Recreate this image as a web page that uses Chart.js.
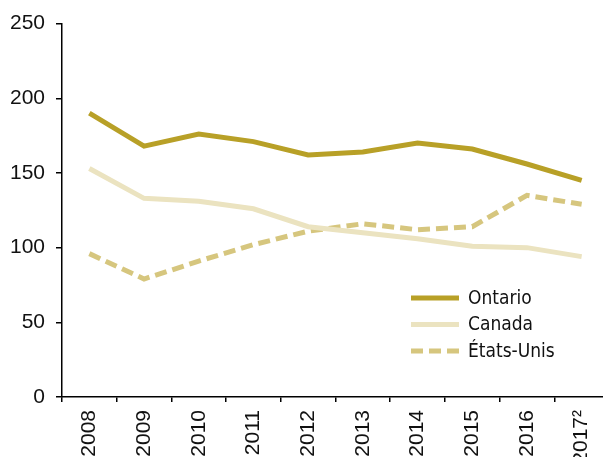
<!DOCTYPE html>
<html>
<head>
<meta charset="utf-8">
<script src="https://cdn.jsdelivr.net/npm/chart.js@4/dist/chart.umd.min.js"></script>
<style>
  html, body { margin: 0; padding: 0; background: #fff; overflow: hidden; }
  #wrap { width: 609px; height: 457px; }
</style>
</head>
<body>
<div id="wrap"><canvas id="chart"></canvas></div>
<script>
  var YEARS = ['2008', '2009', '2010', '2011', '2012', '2013', '2014', '2015', '2016', '2017\u00b2'];
  var ONTARIO = [190, 168, 176, 171, 162, 164, 170, 166, 156, 145];
  var CANADA = [153, 133, 131, 126, 114, 110, 106, 101, 100, 94];
  var ETATS_UNIS = [96, 79, 91, 102, 111, 116, 112, 114, 135, 129];
  var Y_TICKS = [0, 50, 100, 150, 200, 250];

  var TICK_FONT = { family: "'Liberation Sans', Arial, sans-serif", size: 21 };
  var LEGEND_FONT = "19px 'Liberation Sans Narrow', 'DejaVu Sans Condensed', 'Liberation Sans', sans-serif";

  // Legend drawn inside the plot, lower right, one short line sample per series
  var insideLegend = {
    id: 'insideLegend',
    afterDraw: function (chart) {
      var ctx = chart.ctx;
      var x0 = 411, y0 = 298, row = 26.5, len = 48;
      ctx.save();
      chart.data.datasets.forEach(function (ds, i) {
        var y = y0 + i * row;
        ctx.beginPath();
        ctx.strokeStyle = ds.borderColor;
        ctx.lineWidth = ds.borderWidth;
        ctx.setLineDash(ds.borderDash || []);
        ctx.moveTo(x0, y);
        ctx.lineTo(x0 + len, y);
        ctx.stroke();
        ctx.setLineDash([]);
        ctx.fillStyle = '#111';
        ctx.font = LEGEND_FONT;
        ctx.textBaseline = 'middle';
        ctx.fillText(ds.label, x0 + len + 9, y + 1);
      });
      ctx.restore();
    }
  };

  new Chart(document.getElementById('chart'), {
    type: 'line',
    data: {
      labels: YEARS,
      datasets: [
        { label: 'Ontario', data: ONTARIO, borderColor: '#b8a027', borderWidth: 5, pointRadius: 0, tension: 0, fill: false },
        { label: 'Canada', data: CANADA, borderColor: '#ebe3c0', borderWidth: 5, pointRadius: 0, tension: 0, fill: false },
        { label: '\u00c9tats-Unis', data: ETATS_UNIS, borderColor: '#d6c67e', borderWidth: 5, borderDash: [12, 6], pointRadius: 0, tension: 0, fill: false }
      ]
    },
    options: {
      responsive: true,
      maintainAspectRatio: false,
      animation: false,
      layout: { padding: { top: 23, right: 0, left: 0, bottom: 0 } },
      plugins: { legend: { display: false }, tooltip: { enabled: false } },
      scales: {
        x: {
          offset: true,
          grid: { offset: true, drawOnChartArea: false, drawTicks: true, tickLength: 5, color: '#000', lineWidth: 1.5 },
          border: { color: '#000', width: 1.5 },
          ticks: { color: '#111', font: TICK_FONT, minRotation: 90, maxRotation: 90, padding: 8, autoSkip: false },
          afterFit: function (scale) {
            scale.height = 60;
            scale.paddingLeft = 0;
            scale.paddingRight = 0;
          }
        },
        y: {
          min: 0,
          max: 250,
          afterBuildTicks: function (scale) {
            scale.ticks = Y_TICKS.map(function (v) { return { value: v }; });
          },
          grid: { drawOnChartArea: false, drawTicks: true, tickLength: 6, color: '#000', lineWidth: 1.5 },
          border: { color: '#000', width: 1.5 },
          ticks: { color: '#111', font: TICK_FONT, padding: 11 },
          afterFit: function (scale) { scale.width = 62; }
        }
      }
    },
    plugins: [insideLegend]
  });
</script>
</body>
</html>
